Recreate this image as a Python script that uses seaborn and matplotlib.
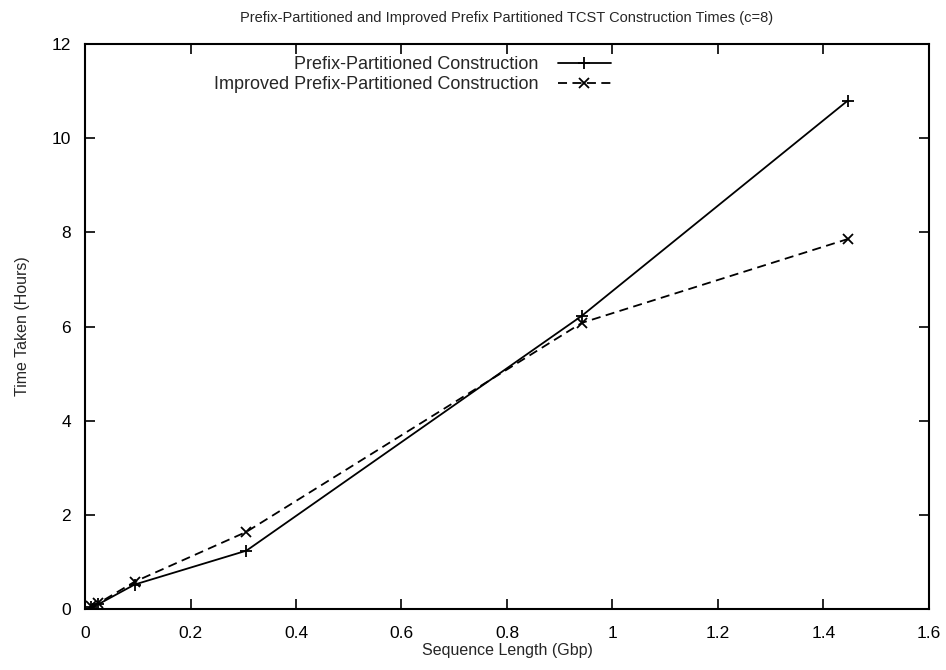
import matplotlib
matplotlib.use("Agg")
import matplotlib.pyplot as plt
import seaborn as sns
import pandas as pd

# Sequence lengths (Gbp) and construction times (hours)
seq_len = [0.012, 0.025, 0.094, 0.306, 0.942, 1.446]
prefix_times = [0.05, 0.10, 0.52, 1.24, 6.23, 10.80]
improved_times = [0.07, 0.12, 0.58, 1.64, 6.08, 7.86]

series_names = ["Prefix-Partitioned Construction",
                "Improved Prefix-Partitioned Construction"]

df_prefix = pd.DataFrame({"x": seq_len, "y": prefix_times})
df_improved = pd.DataFrame({"x": seq_len, "y": improved_times})

sns.set_style("ticks")
plt.rcParams["font.family"] = ["Liberation Sans", "DejaVu Sans"]

fig = plt.figure(figsize=(9.46, 6.70), dpi=100)
ax = fig.add_axes([0.0899, 0.091, 0.892, 0.843])

sns.lineplot(data=df_prefix, x="x", y="y", ax=ax, color="black",
             linestyle="-", linewidth=1.3, marker="+", markersize=9,
             markeredgewidth=1.3, markeredgecolor="black",
             label=series_names[0])
sns.lineplot(data=df_improved, x="x", y="y", ax=ax, color="black",
             linestyle=(0, (5, 3)), linewidth=1.3, marker="x", markersize=7,
             markeredgewidth=1.3, markeredgecolor="black",
             label=series_names[1])

ax.set_xlim(0, 1.6)
ax.set_ylim(0, 12)
ax.set_xticks([0, 0.2, 0.4, 0.6, 0.8, 1.0, 1.2, 1.4, 1.6])
ax.set_xticklabels(["0", "0.2", "0.4", "0.6", "0.8", "1", "1.2", "1.4", "1.6"])
ax.set_yticks([0, 2, 4, 6, 8, 10, 12])
ax.tick_params(direction="in", top=True, right=True, length=7, width=1.2,
               labelsize=12.5, colors="black")
ax.tick_params(axis="x", pad=12)
ax.tick_params(axis="y", pad=10)
for s in ax.spines.values():
    s.set_linewidth(1.5)
    s.set_color("black")

ax.set_xlabel("Sequence Length (Gbp)", fontsize=11.5, labelpad=2)
ax.set_ylabel("Time Taken (Hours)", fontsize=11.5, labelpad=16)
ax.set_title("Prefix-Partitioned and Improved Prefix Partitioned TCST Construction Times (c=8)",
             fontsize=10.5, pad=16)

handles, labels = ax.get_legend_handles_labels()
ax.legend(handles, labels, loc="upper right", bbox_to_anchor=(0.64, 1.005),
          frameon=False, markerfirst=False, fontsize=13, handlelength=2.9,
          handletextpad=1.1, labelspacing=0.2, borderpad=0.3)

fig.savefig("out.png", dpi=100)
